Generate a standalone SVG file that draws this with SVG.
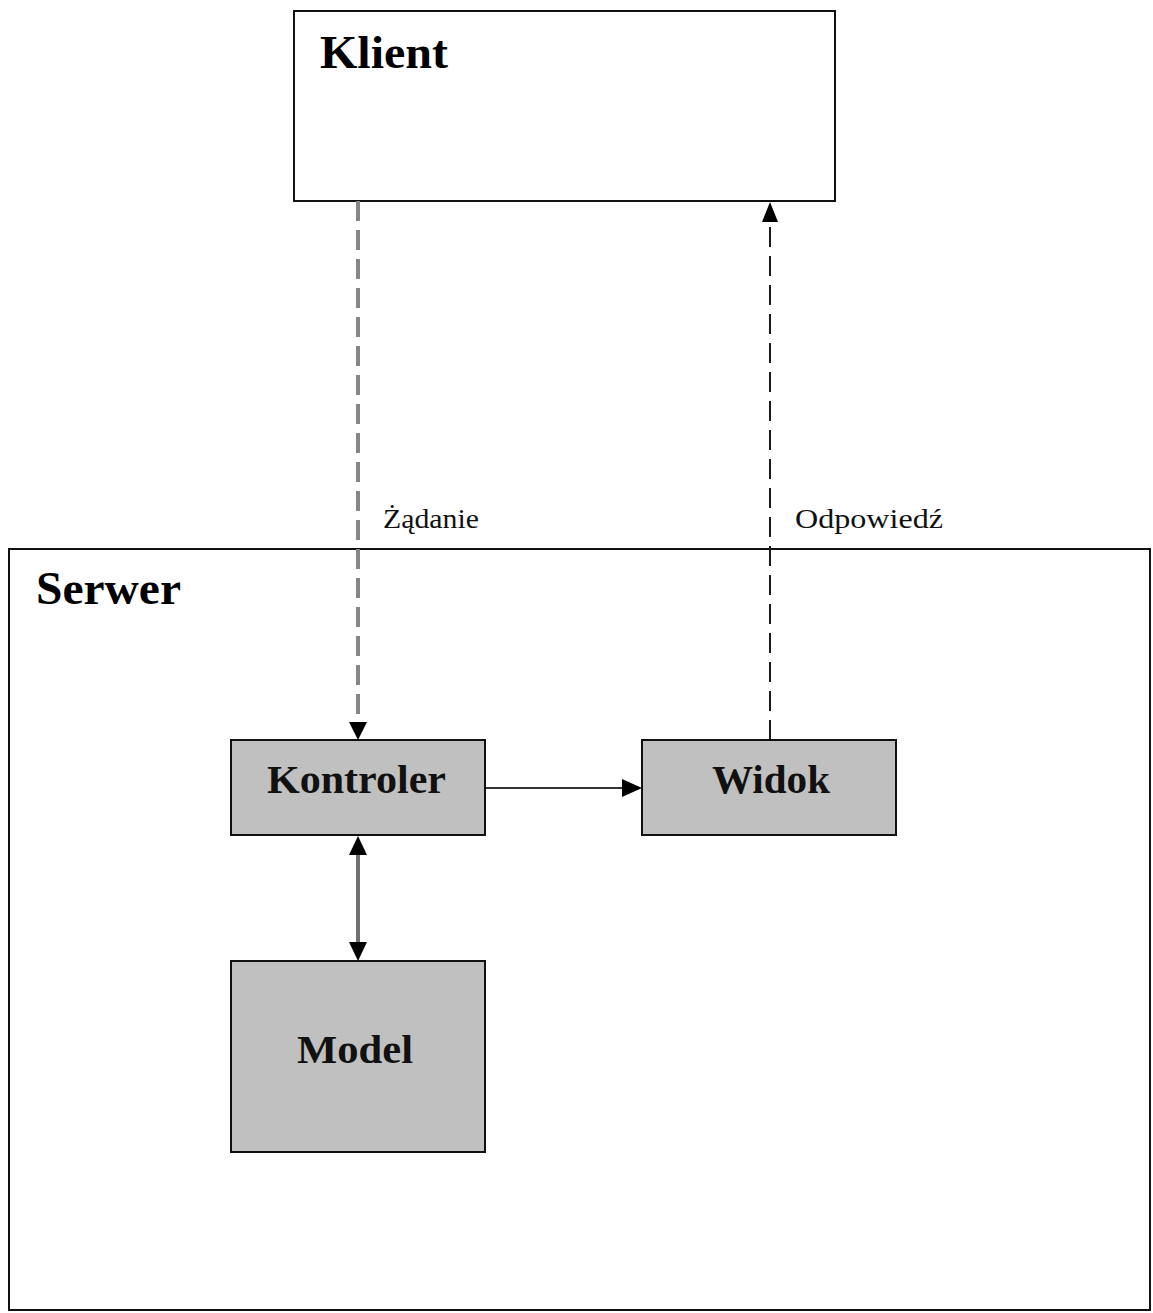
<svg xmlns="http://www.w3.org/2000/svg" width="1153" height="1313" viewBox="0 0 1153 1313">
<defs>
<style>
.frame{fill:#ffffff;stroke:#111111;stroke-width:2}
.box{fill:#c0c0c0;stroke:#111111;stroke-width:2}
.title{font-family:"Liberation Serif","Times New Roman",serif;font-weight:bold;font-size:47px;fill:#000}
.lbl{font-family:"Liberation Serif","Times New Roman",serif;font-weight:bold;font-size:41px;fill:#111}
.elbl{font-family:"Liberation Serif","Times New Roman",serif;font-size:28px;fill:#111}
.head{fill:#000}
</style>
</defs>
<rect width="1153" height="1313" fill="#ffffff"/>
<g id="serwer">
<rect class="frame" x="9" y="549" width="1141" height="761"/>
<text class="title" x="36" y="604" textLength="145" lengthAdjust="spacingAndGlyphs">Serwer</text>
</g>
<g id="klient">
<rect class="frame" x="294" y="11" width="541" height="190"/>
<text class="title" x="320" y="68" textLength="128" lengthAdjust="spacingAndGlyphs">Klient</text>
</g>
<g id="connectors">
<line x1="358" y1="201" x2="358" y2="724" stroke="#868686" stroke-width="4" stroke-dasharray="20 9"/>
<polygon class="head" points="349,722 367,722 358,740"/>
<line x1="770" y1="740" x2="770" y2="220" stroke="#1a1a1a" stroke-width="2" stroke-dasharray="20 9"/>
<polygon class="head" points="762,222 778,222 770,202"/>
<line x1="485" y1="788" x2="624" y2="788" stroke="#333333" stroke-width="2"/>
<polygon class="head" points="622,779 622,797 642,788"/>
<line x1="358" y1="852" x2="358" y2="944" stroke="#707070" stroke-width="4"/>
<polygon class="head" points="349,855 367,855 358,836"/>
<polygon class="head" points="349,942 367,942 358,961"/>
<text class="elbl" x="383" y="528" textLength="96" lengthAdjust="spacingAndGlyphs">Żądanie</text>
<text class="elbl" x="795" y="528" textLength="148" lengthAdjust="spacingAndGlyphs">Odpowiedź</text>
</g>
<g id="kontroler">
<rect class="box" x="231" y="740" width="254" height="95"/>
<text class="lbl" x="267" y="793" textLength="179" lengthAdjust="spacingAndGlyphs">Kontroler</text>
</g>
<g id="widok">
<rect class="box" x="642" y="740" width="254" height="95"/>
<text class="lbl" x="712" y="793" textLength="118" lengthAdjust="spacingAndGlyphs">Widok</text>
</g>
<g id="model">
<rect class="box" x="231" y="961" width="254" height="191"/>
<text class="lbl" x="297" y="1063" textLength="116" lengthAdjust="spacingAndGlyphs">Model</text>
</g>
</svg>
